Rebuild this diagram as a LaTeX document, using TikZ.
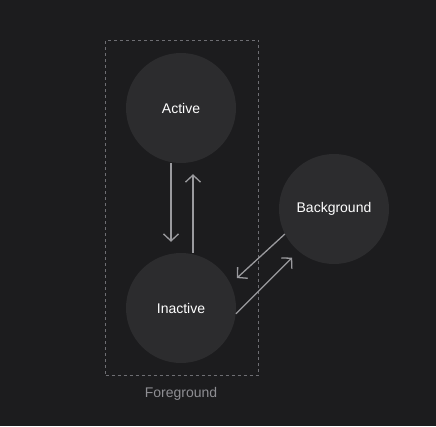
\documentclass[tikz,border=0pt]{standalone}
\usepackage{fontspec}
\setmainfont{Liberation Sans}
\usetikzlibrary{arrows.meta}
\definecolor{bgc}{HTML}{1C1C1E}
\definecolor{circc}{HTML}{2C2C2E}
\definecolor{linec}{HTML}{9A9A9E}
\definecolor{dashc}{HTML}{6E6E73}
\definecolor{labc}{HTML}{8E8E93}
\tikzset{
  state/.style={circle, fill=circc, minimum size=110pt, inner sep=0pt, text=white, font=\fontsize{14}{16}\selectfont},
  conn/.style={draw=linec, line width=1.3pt, -{Straight Barb[length=7pt,width=15pt]}},
  frame/.style={draw=dashc, line width=0.9pt, dash pattern=on 3pt off 3pt},
  caption/.style={text=labc, font=\fontsize{14}{16}\selectfont}
}
\begin{document}
\begin{tikzpicture}[x=1pt,y=-1pt]
\fill[bgc] (0,0) rectangle (436,426);
\useasboundingbox (0,0) rectangle (436,426);
\node[frame, minimum width=153pt, minimum height=335pt, inner sep=0pt] (fg) at (182,207.5) {};
\node[state] (active) at (181,108) {Active};
\node[state] (inactive) at (181,308) {Inactive};
\node[state] (background) at (334,209) {Background};
\node[caption] (fglabel) at (181,394) {Foreground};
\draw[conn, shorten >=11pt] ([xshift=-10pt]active.south) -- ([xshift=-10pt]inactive.north);
\draw[conn, shorten >=11pt] ([xshift=12pt]inactive.north) -- ([xshift=12pt]active.south);
\draw[conn, shorten >=8.5pt] (background.207) -- (inactive.26);
\draw[conn, shorten >=9pt] (inactive.354) -- (background.230);
\end{tikzpicture}
\end{document}
